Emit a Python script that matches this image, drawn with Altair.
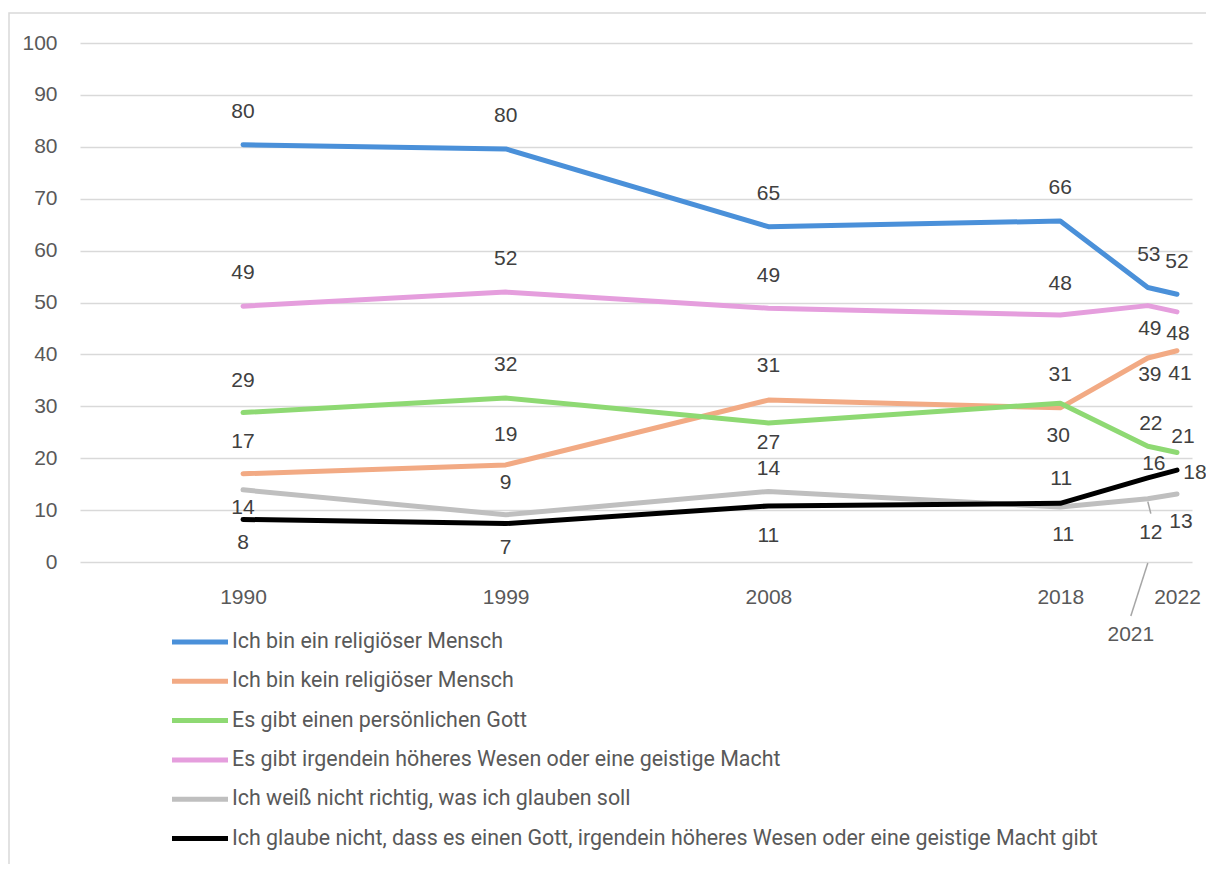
import altair as alt
import pandas as pd

# ---------------- data ----------------
years = [1990, 1999, 2008, 2018, 2021, 2022]
series_names = [
    "Ich bin ein religiöser Mensch",
    "Ich bin kein religiöser Mensch",
    "Es gibt einen persönlichen Gott",
    "Es gibt irgendein höheres Wesen oder eine geistige Macht",
    "Ich weiß nicht richtig, was ich glauben soll",
    "Ich glaube nicht, dass es einen Gott, irgendein höheres Wesen oder eine geistige Macht gibt",
]
religious = [80.4, 79.6, 64.6, 65.7, 52.9, 51.6]
not_religious = [17.0, 18.7, 31.2, 29.7, 39.3, 40.7]
personal_god = [28.8, 31.6, 26.8, 30.6, 22.3, 21.1]
higher_being = [49.3, 52.0, 48.9, 47.6, 49.4, 48.2]
unsure = [13.9, 9.1, 13.6, 10.6, 12.2, 13.1]
no_god = [8.2, 7.4, 10.8, 11.3, 16.2, 17.7]
series_values = [religious, not_religious, personal_god, higher_being, unsure, no_god]

x_tick_years = [1990, 1999, 2008, 2018, 2022]
displaced_tick_year = [2021]
y_ticks = list(range(0, 101, 10))

# ---------------- styles ----------------
colors = ["#4A90D9", "#F2AA84", "#8ED973", "#E59EDD", "#BFBFBF", "#000000"]

# data-label placement (dx, dy in pixels from the point), per series, per year
label_offsets = [
    [(0, -33), (0, -33), (0, -33), (0, -33), (1, -32), (0, -32)],
    [(0, -32), (0, -30), (0, -34), (-2, 28), (2, 17), (3, 23)],
    [(0, -32), (0, -33), (0, 20), (0, -28), (3, -22), (6, -15)],
    [(0, -33), (0, -33), (0, -32), (0, -31), (2, 23), (1, 22)],
    [(0, 18), (0, -32), (0, -22), (3, 28), (3, 34), (4, 28)],
    [(0, 24), (0, 24), (0, 30), (1, -24), (6, -14), (18, 3)],
]

rows = []
for s, name in enumerate(series_names):
    for i, yr in enumerate(years):
        dx, dy = label_offsets[s][i]
        rows.append({"series": name, "order": s, "year": yr,
                     "value": series_values[s][i], "dx": dx, "dy": dy})
df = pd.DataFrame(rows)

W, H = 1112, 519
NUM_FONT = "Liberation Sans"
TXT_FONT = "Roboto"

x_scale = alt.Scale(domain=[1984.415, 2022.514], nice=False, zero=False)
y_scale = alt.Scale(domain=[0, 100], nice=False)

x_enc = alt.X("year:Q", scale=x_scale, title=None,
              axis=alt.Axis(values=x_tick_years, format="d", grid=False, domain=False,
                            ticks=False, labelFontSize=21, labelFont=NUM_FONT,
                            labelColor="#595959", labelPadding=24, labelFlush=False))
y_enc = alt.Y("value:Q", scale=y_scale, title=None,
              axis=alt.Axis(values=y_ticks, grid=True, gridColor="#D9D9D9", gridWidth=1.5,
                            domain=False, ticks=False, labelFontSize=21, labelFont=NUM_FONT,
                            labelColor="#595959", labelPadding=23))

frame = alt.Chart(pd.DataFrame({"k": [0]})).mark_rect(
    fill="#ffffff", fillOpacity=0, stroke="#D9D9D9", strokeWidth=1.5
).encode(x=alt.value(-71), x2=alt.value(1400), y=alt.value(-30), y2=alt.value(1200))

lines = alt.Chart(df).mark_line(strokeWidth=5, strokeCap="round", strokeJoin="round").encode(
    x=x_enc,
    y=y_enc,
    color=alt.Color("series:N", scale=alt.Scale(domain=series_names, range=colors),
                    legend=alt.Legend(title=None, orient="none", legendX=103.5, legendY=582.5,
                                      direction="vertical", symbolType="M-2,0H2",
                                      symbolSize=784, symbolStrokeWidth=5,
                                      labelFontSize=21.4, labelFont=TXT_FONT,
                                      labelColor="#595959", labelOffset=15.5,
                                      rowPadding=12.3, labelLimit=1200, padding=0)),
    order=alt.Order("year:Q"),
)

label_layers = []
for (dx, dy), sub in df.groupby(["dx", "dy"]):
    label_layers.append(
        alt.Chart(sub).mark_text(dx=int(dx), dy=int(dy), fontSize=21, font=NUM_FONT,
                                 color="#404040", baseline="middle", align="center").encode(
            x=alt.X("year:Q", scale=x_scale),
            y=alt.Y("value:Q", scale=y_scale),
            text=alt.Text("value:Q", format=".0f"),
        )
    )

disp = pd.DataFrame({"year": displaced_tick_year, "label": [str(v) for v in displaced_tick_year]})
disp_label = alt.Chart(disp).mark_text(dx=-17, fontSize=21, font=NUM_FONT, color="#595959",
                                       baseline="middle", align="center").encode(
    x=alt.X("year:Q", scale=x_scale), y=alt.value(592), text="label:N")
disp_leader = alt.Chart(disp).mark_rule(color="#A6A6A6", strokeWidth=1.5, x2Offset=-17).encode(
    x=alt.X("year:Q", scale=x_scale), x2="year:Q", y=alt.value(520), y2=alt.value(573))

gray_pt = df[(df["order"] == 4) & (df["year"] == 2021)]
gray_leader = alt.Chart(gray_pt).mark_rule(color="#A6A6A6", strokeWidth=1.5,
                                            yOffset=3, y2Offset=15, x2Offset=3).encode(
    x=alt.X("year:Q", scale=x_scale), x2="year:Q",
    y=alt.Y("value:Q", scale=y_scale), y2="value:Q")

chart = alt.layer(frame, lines, gray_leader, disp_leader, disp_label, *label_layers).properties(
    width=W, height=H,
    autosize=alt.AutoSizeParams(type="none"),
    padding={"left": 72, "top": 35, "right": 14, "bottom": 302},
    background="#ffffff",
).configure_view(strokeWidth=0)

chart.save("out.html", embed_options={"renderer": "svg", "actions": False})
